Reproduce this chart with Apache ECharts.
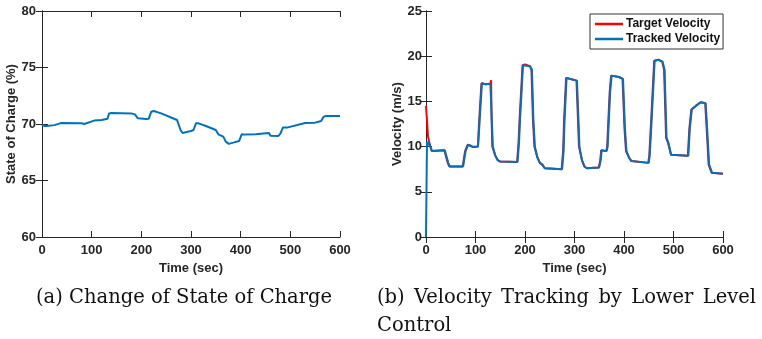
<!DOCTYPE html>
<html>
<head>
<meta charset="utf-8">
<script src="https://cdn.jsdelivr.net/npm/echarts@6/dist/echarts.min.js"></script>
<style>
html,body{margin:0;padding:0;background:#fff;}
#c{width:762px;height:339px;}
</style>
</head>
<body>
<div id="c"></div>
<script>
// ---- Data ----
var xTicks = [0, 100, 200, 300, 400, 500, 600];
var socTicks = [60, 65, 70, 75, 80];
var velTicks = [0, 5, 10, 15, 20, 25];

var socTime = [0, 5, 10, 25, 38, 80, 85, 105, 120, 132, 135, 140, 180, 187, 193, 195, 210, 215, 220, 225, 240, 272, 275, 279, 283, 300, 305, 310, 315, 330, 350, 355, 365, 368, 370, 376, 385, 397, 402, 410, 430, 457, 460, 476, 480, 485, 495, 530, 550, 562, 567, 572, 600];
var socValue = [69.95, 69.82, 69.82, 69.9, 70.08, 70.06, 70.0, 70.3, 70.35, 70.47, 70.94, 70.97, 70.94, 70.85, 70.5, 70.4, 70.44, 70.47, 71.09, 71.15, 70.94, 70.35, 70.2, 69.47, 69.2, 69.38, 69.47, 70.06, 70.06, 69.82, 69.47, 69.09, 68.88, 68.8, 68.44, 68.24, 68.35, 68.5, 69.09, 69.06, 69.09, 69.2, 68.97, 68.94, 69.15, 69.68, 69.7, 70.09, 70.12, 70.26, 70.65, 70.7, 70.7];

var trackTime = [0, 1, 2, 3, 5, 8, 10, 12, 15, 38, 40, 45, 48, 75, 78, 80, 85, 90, 95, 105, 108, 113, 120, 130, 132, 133, 135, 140, 145, 150, 185, 188, 190, 196, 200, 210, 214, 217, 220, 225, 230, 235, 240, 275, 278, 280, 284, 290, 305, 308, 310, 315, 320, 325, 350, 353, 355, 365, 367, 372, 375, 390, 398, 402, 405, 410, 415, 450, 452, 455, 462, 470, 478, 482, 486, 490, 495, 530, 533, 537, 545, 555, 565, 568, 572, 578, 600];
var trackValue = [0, 0, 10.5, 10.1, 10.6, 10.1, 9.8, 9.5, 9.7, 9.6, 9.4, 8.2, 7.8, 7.8, 8.8, 9.5, 10.2, 10.1, 9.95, 10.0, 12.5, 17.0, 16.9, 16.95, 17.1, 13.0, 10.0, 9.0, 8.5, 8.35, 8.3, 10.5, 13.0, 19.0, 19.1, 18.9, 18.5, 13.0, 10.0, 8.8, 8.2, 8.0, 7.6, 7.5, 9.5, 13.0, 17.6, 17.5, 17.3, 13.0, 10.0, 8.5, 7.8, 7.6, 7.7, 8.5, 9.6, 9.5, 10.0, 16.0, 17.85, 17.7, 17.5, 12.0, 9.5, 8.8, 8.4, 8.2, 9.0, 12.0, 19.5, 19.6, 19.4, 18.5, 11.0, 10.4, 9.1, 9.0, 12.0, 14.1, 14.5, 14.9, 14.8, 12.0, 8.0, 7.1, 7.0];

var targetTime = [0, 1.5, 2.5, 4, 6, 8, 10, 12, 15, 37, 39, 44, 47, 74, 77, 79, 84, 90, 95, 105, 107, 112, 120, 130, 131.5, 132.5, 134, 140, 145, 150, 184, 187, 189, 195, 200, 210, 213, 216, 219, 225, 230, 235, 240, 274, 277, 279, 283, 290, 304, 307, 309, 315, 320, 325, 349, 352, 354, 364, 366, 371, 374, 390, 397, 401, 404, 410, 415, 449, 451, 454, 461, 470, 477, 481, 485, 489, 495, 529, 532, 536, 545, 555, 564, 567, 571, 577, 600];
var targetValue = [14.5, 14.5, 12.5, 11.2, 10.6, 10.2, 9.8, 9.5, 9.7, 9.6, 9.4, 8.2, 7.8, 7.8, 8.8, 9.5, 10.2, 10.1, 9.95, 10.0, 12.5, 17.0, 16.9, 16.95, 17.35, 13.0, 10.0, 9.0, 8.5, 8.35, 8.3, 10.5, 13.0, 19.0, 19.1, 18.9, 18.5, 13.0, 10.0, 8.8, 8.2, 8.0, 7.6, 7.5, 9.5, 13.0, 17.6, 17.5, 17.3, 13.0, 10.0, 8.5, 7.8, 7.6, 7.7, 8.5, 9.6, 9.5, 10.0, 16.0, 17.85, 17.7, 17.5, 12.0, 9.5, 8.8, 8.4, 8.2, 9.0, 12.0, 19.5, 19.6, 19.4, 18.5, 11.0, 10.4, 9.1, 9.0, 12.0, 14.1, 14.5, 14.9, 14.8, 12.0, 8.0, 7.1, 7.0];

var captionA = '(a) Change of State of Charge';
var captionB1 = ['(b)', 'Velocity', 'Tracking', 'by', 'Lower', 'Level'];
var captionB2 = 'Control';

// ---- helpers ----
function pairs(t, v) { return t.map(function (x, i) { return [x, v[i]]; }); }
var FONT = 'Liberation Sans';
var AX = '#262626';
function xAx(grid, pos, show, name) {
  return {
    type: 'value', gridIndex: grid, position: pos,
    min: xTicks[0], max: xTicks[xTicks.length - 1], interval: xTicks[1] - xTicks[0],
    name: show ? name : '', nameLocation: 'middle', nameGap: 24,
    nameTextStyle: { fontFamily: FONT, fontWeight: 'bold', fontSize: 13, color: AX },
    axisLine: { show: true, lineStyle: { color: AX, width: 1 } },
    axisTick: { show: true, inside: true, length: 6, lineStyle: { color: AX } },
    axisLabel: { show: show, fontFamily: FONT, fontWeight: 'bold', fontSize: 13, color: AX, margin: 7 },
    splitLine: { show: false }
  };
}
function yAx(grid, pos, show, ticks, name, gap, lm) {
  return {
    type: 'value', gridIndex: grid, position: pos,
    min: ticks[0], max: ticks[ticks.length - 1], interval: ticks[1] - ticks[0],
    name: show ? name : '', nameLocation: 'middle', nameGap: gap,
    nameTextStyle: { fontFamily: FONT, fontWeight: 'bold', fontSize: 13, color: AX },
    axisLine: { show: true, lineStyle: { color: AX, width: 1 } },
    axisTick: { show: true, inside: true, length: 6, lineStyle: { color: AX } },
    axisLabel: { show: show, fontFamily: FONT, fontWeight: 'bold', fontSize: 13, color: AX, margin: lm },
    splitLine: { show: false }
  };
}

var chart = echarts.init(document.getElementById('c'), null, { renderer: 'canvas' });

var CAP_SIZE = 19.5;
var CAP_FAMILY = 'DejaVu Serif';
function word(txt, x, y) {
  return { type: 'text', x: x, y: y,
    style: { text: txt, fontFamily: CAP_FAMILY, fontSize: CAP_SIZE, fontWeight: 'normal', fill: '#111',
             align: 'left', verticalAlign: 'top' } };
}
// justify first line of caption (b) between its left and right edges
var ctx = document.createElement('canvas').getContext('2d');
ctx.font = CAP_SIZE + 'px "' + CAP_FAMILY + '"';
var bLeft = 377, bRight = 756;
var widths = captionB1.map(function (w) { return ctx.measureText(w).width; });
var totalW = widths.reduce(function (a, b) { return a + b; }, 0);
var gap = (bRight - bLeft - totalW) / (captionB1.length - 1);
var line1Top = 288, line2Top = 316;
var gr = [word(captionA, 36, line1Top)];
var cx = bLeft;
captionB1.forEach(function (w, i) { gr.push(word(w, cx, line1Top)); cx += widths[i] + gap; });
gr.push(word(captionB2, bLeft, line2Top));

chart.setOption({
  animation: false,
  backgroundColor: '#fff',
  grid: [
    { left: 42, top: 11, width: 298, height: 226 },
    { left: 426, top: 11, width: 297, height: 226 }
  ],
  xAxis: [
    xAx(0, 'bottom', true, 'Time (sec)'),
    xAx(0, 'top', false, ''),
    xAx(1, 'bottom', true, 'Time (sec)'),
    xAx(1, 'top', false, '')
  ],
  yAxis: [
    yAx(0, 'left', true, socTicks, 'State of Charge (%)', 22, 6),
    yAx(0, 'right', false, socTicks, '', 0, 6),
    yAx(1, 'left', true, velTicks, 'Velocity (m/s)', 20, 4),
    yAx(1, 'right', false, velTicks, '', 0, 4)
  ],
  legend: {
    left: 590, top: 14, orient: 'vertical',
    itemWidth: 28, itemHeight: 2.5, itemGap: 3, icon: 'rect',
    padding: [4, 3, 4, 5],
    borderColor: '#333', borderWidth: 1, backgroundColor: '#fff',
    textStyle: { fontFamily: FONT, fontWeight: 'bold', fontSize: 12, color: '#111', padding: [0, 0, 0, -2] },
    data: ['Target Velocity', 'Tracked Velocity']
  },
  series: [
    {
      name: 'SOC', type: 'line', xAxisIndex: 0, yAxisIndex: 0,
      data: pairs(socTime, socValue), showSymbol: false,
      lineStyle: { color: '#0072BD', width: 2 }, itemStyle: { color: '#0072BD' }
    },
    {
      name: 'Target Velocity', type: 'line', xAxisIndex: 2, yAxisIndex: 2,
      data: pairs(targetTime, targetValue), showSymbol: false,
      lineStyle: { color: '#FF0000', width: 2 }, itemStyle: { color: '#FF0000' }
    },
    {
      name: 'Tracked Velocity', type: 'line', xAxisIndex: 2, yAxisIndex: 2,
      data: pairs(trackTime, trackValue), showSymbol: false,
      lineStyle: { color: '#0072BD', width: 2 }, itemStyle: { color: '#0072BD' }
    }
  ],
  graphic: gr
});
</script>
</body>
</html>
